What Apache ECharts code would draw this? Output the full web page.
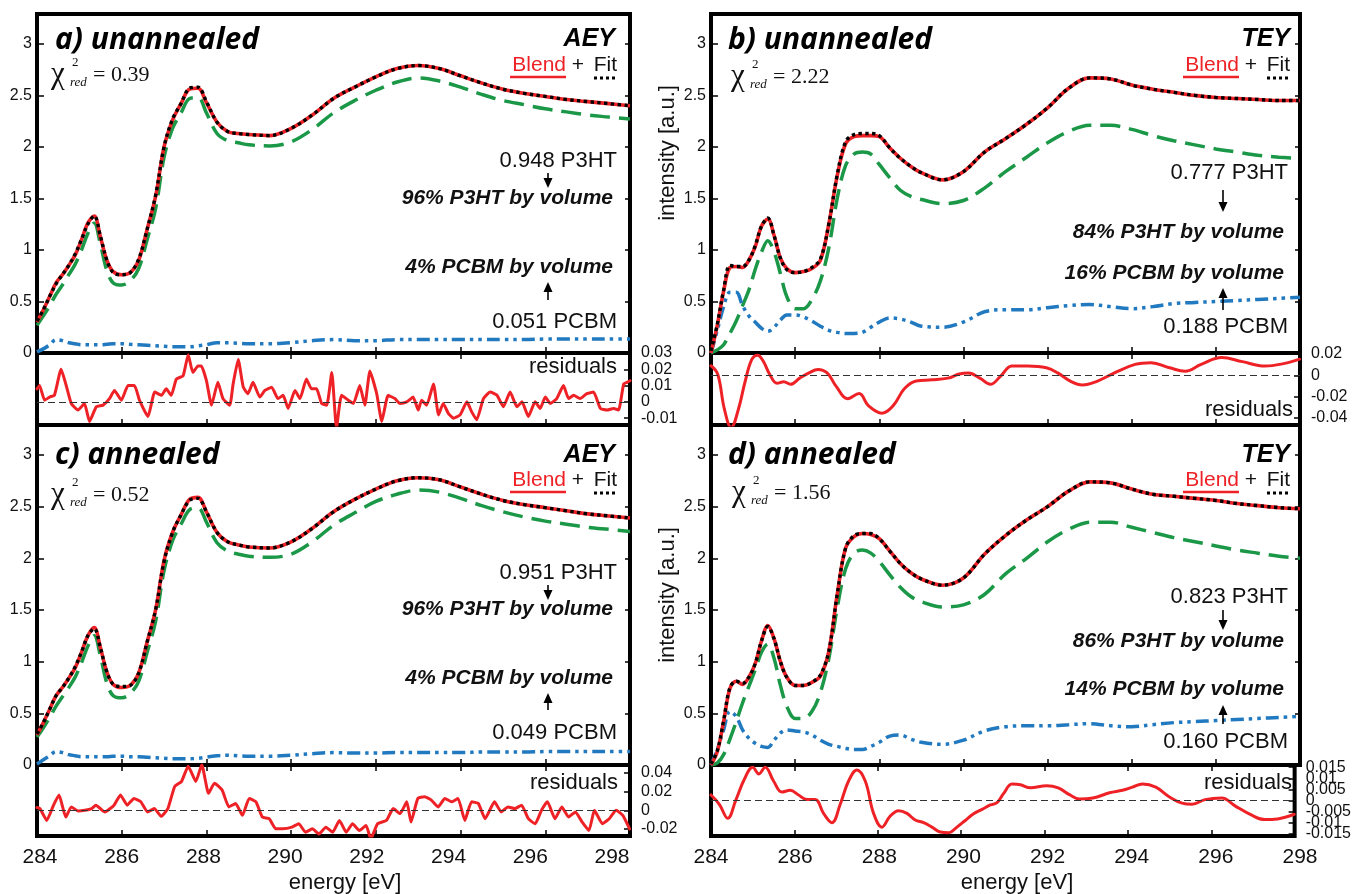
<!DOCTYPE html>
<html>
<head>
<meta charset="utf-8">
<title>NEXAFS blend fits</title>
<script src="https://cdn.jsdelivr.net/npm/echarts@6/dist/echarts.min.js"></script>
<style>
html,body{margin:0;padding:0;background:#fff;}
#chart{width:1354px;height:894px;}
</style>
</head>
<body>
<div id="chart"></div>
<script>
// photon energy grid used for the spectra [eV]
var energy = [284.0,284.15,284.3,284.45,284.6,284.75,284.9,285.05,285.2,285.35,285.5,285.65,285.8,286.0,286.2,286.4,286.6,286.8,287.0,287.2,287.4,287.6,287.8,288.0,288.25,288.5,288.75,289.0,289.5,290.0,290.5,291.0,291.5,292.0,292.5,293.0,293.5,294.0,294.5,295.0,295.5,296.0,296.5,297.0,297.5,298.0];

// a) unannealed, AEY
var aBlend = [0.30,0.42,0.55,0.68,0.76,0.85,0.95,1.10,1.26,1.33,1.12,0.90,0.79,0.76,0.78,0.90,1.20,1.52,2.00,2.26,2.42,2.56,2.57,2.43,2.24,2.15,2.13,2.12,2.11,2.18,2.31,2.47,2.58,2.68,2.76,2.79,2.76,2.69,2.62,2.56,2.52,2.49,2.46,2.44,2.42,2.40];
var aFit   = [0.31,0.42,0.55,0.67,0.76,0.85,0.96,1.10,1.25,1.33,1.13,0.90,0.78,0.76,0.78,0.91,1.20,1.53,2.00,2.27,2.42,2.57,2.58,2.44,2.24,2.15,2.13,2.12,2.11,2.18,2.31,2.47,2.58,2.68,2.76,2.79,2.76,2.69,2.62,2.56,2.52,2.49,2.46,2.44,2.42,2.40];
var aP3HT  = [0.27,0.36,0.46,0.57,0.66,0.76,0.86,1.00,1.16,1.26,1.05,0.80,0.68,0.66,0.70,0.82,1.10,1.40,1.90,2.18,2.33,2.47,2.48,2.33,2.13,2.06,2.04,2.02,2.01,2.05,2.17,2.33,2.45,2.55,2.63,2.67,2.64,2.58,2.51,2.45,2.41,2.37,2.34,2.31,2.29,2.27];
var aPCBM  = [0.01,0.04,0.08,0.13,0.12,0.10,0.09,0.08,0.08,0.08,0.08,0.085,0.09,0.09,0.085,0.08,0.075,0.07,0.065,0.06,0.06,0.06,0.07,0.08,0.10,0.10,0.095,0.09,0.09,0.10,0.12,0.13,0.12,0.12,0.13,0.13,0.13,0.13,0.13,0.13,0.13,0.135,0.135,0.135,0.135,0.135];

// b) unannealed, TEY
var bBlend = [0.00,0.27,0.60,0.83,0.84,0.83,0.90,1.03,1.23,1.30,1.14,0.92,0.82,0.78,0.79,0.82,0.90,1.25,1.72,2.03,2.10,2.11,2.11,2.10,1.99,1.89,1.81,1.75,1.68,1.76,1.95,2.08,2.22,2.38,2.57,2.67,2.66,2.60,2.56,2.53,2.50,2.48,2.47,2.46,2.45,2.45];
var bFit   = [0.02,0.28,0.61,0.85,0.84,0.84,0.90,1.04,1.23,1.31,1.14,0.92,0.81,0.78,0.79,0.83,0.91,1.25,1.73,2.05,2.12,2.13,2.13,2.11,1.99,1.89,1.81,1.75,1.68,1.76,1.95,2.08,2.22,2.38,2.57,2.67,2.66,2.60,2.56,2.53,2.50,2.48,2.47,2.46,2.45,2.45];
var bP3HT  = [0.00,0.03,0.08,0.19,0.31,0.46,0.61,0.81,0.98,1.09,0.98,0.77,0.55,0.43,0.43,0.52,0.70,1.02,1.50,1.82,1.93,1.95,1.93,1.83,1.70,1.58,1.52,1.49,1.45,1.48,1.60,1.76,1.90,2.04,2.15,2.21,2.21,2.17,2.11,2.06,2.02,1.98,1.95,1.92,1.90,1.89];
var bPCBM  = [0.00,0.22,0.45,0.59,0.59,0.46,0.36,0.30,0.24,0.21,0.25,0.32,0.37,0.37,0.35,0.31,0.26,0.22,0.20,0.19,0.19,0.20,0.25,0.30,0.34,0.33,0.30,0.26,0.25,0.30,0.40,0.42,0.42,0.44,0.46,0.47,0.45,0.43,0.45,0.48,0.49,0.50,0.51,0.52,0.53,0.54];

// c) annealed, AEY
var cBlend = [0.29,0.41,0.54,0.67,0.75,0.84,0.94,1.09,1.25,1.33,1.13,0.90,0.78,0.75,0.77,0.89,1.19,1.50,1.98,2.25,2.42,2.57,2.59,2.45,2.25,2.16,2.13,2.11,2.10,2.16,2.29,2.45,2.57,2.67,2.75,2.78,2.76,2.69,2.62,2.56,2.52,2.49,2.46,2.43,2.41,2.39];
var cFit   = [0.30,0.41,0.54,0.67,0.75,0.84,0.95,1.09,1.25,1.32,1.13,0.90,0.78,0.76,0.77,0.89,1.19,1.50,1.97,2.25,2.42,2.56,2.58,2.45,2.25,2.16,2.13,2.11,2.10,2.16,2.29,2.45,2.57,2.67,2.75,2.78,2.76,2.69,2.62,2.56,2.52,2.49,2.46,2.43,2.41,2.39];
var cP3HT  = [0.27,0.36,0.46,0.57,0.66,0.75,0.85,0.99,1.15,1.25,1.05,0.79,0.67,0.65,0.69,0.81,1.09,1.39,1.88,2.17,2.33,2.47,2.49,2.35,2.15,2.07,2.04,2.02,2.01,2.04,2.16,2.32,2.44,2.55,2.62,2.66,2.64,2.58,2.51,2.45,2.40,2.36,2.33,2.30,2.28,2.26];
var cPCBM  = [0.01,0.05,0.09,0.13,0.12,0.10,0.09,0.08,0.08,0.08,0.08,0.08,0.085,0.085,0.08,0.08,0.075,0.07,0.065,0.06,0.06,0.06,0.065,0.075,0.09,0.095,0.09,0.085,0.085,0.095,0.11,0.12,0.115,0.115,0.12,0.12,0.12,0.12,0.125,0.125,0.125,0.13,0.13,0.13,0.13,0.13];

// d) annealed, TEY
var dBlend = [0.00,0.13,0.42,0.74,0.81,0.78,0.85,0.98,1.20,1.35,1.22,1.00,0.85,0.77,0.77,0.80,0.86,1.10,1.65,2.10,2.21,2.24,2.23,2.19,2.07,1.95,1.86,1.80,1.74,1.81,2.04,2.22,2.37,2.50,2.65,2.74,2.73,2.67,2.62,2.60,2.58,2.56,2.53,2.51,2.49,2.48];
var dFit   = [0.01,0.14,0.43,0.75,0.81,0.79,0.85,0.98,1.20,1.34,1.22,1.00,0.85,0.77,0.77,0.80,0.87,1.10,1.65,2.10,2.22,2.24,2.24,2.19,2.07,1.95,1.86,1.80,1.74,1.81,2.04,2.22,2.37,2.50,2.65,2.74,2.73,2.67,2.62,2.60,2.58,2.56,2.53,2.51,2.49,2.48];
var dP3HT  = [0.00,0.02,0.10,0.25,0.42,0.60,0.76,0.92,1.09,1.17,1.03,0.77,0.57,0.45,0.45,0.52,0.70,1.03,1.52,1.90,2.05,2.08,2.05,1.97,1.84,1.72,1.63,1.58,1.53,1.55,1.65,1.85,2.00,2.16,2.28,2.35,2.35,2.30,2.25,2.20,2.16,2.12,2.08,2.05,2.02,2.00];
var dPCBM  = [0.00,0.15,0.34,0.52,0.47,0.34,0.26,0.21,0.18,0.17,0.24,0.31,0.34,0.33,0.32,0.29,0.24,0.20,0.18,0.16,0.15,0.15,0.18,0.22,0.28,0.29,0.25,0.22,0.20,0.24,0.33,0.37,0.38,0.38,0.39,0.40,0.38,0.37,0.39,0.41,0.42,0.43,0.44,0.45,0.46,0.47];

// residuals (energy, value)
var resAE = [284.0,284.06,284.18,284.30,284.41,284.57,284.69,284.81,284.97,285.12,285.24,285.40,285.56,285.71,285.83,285.99,286.15,286.30,286.42,286.62,286.78,286.94,287.05,287.17,287.29,287.45,287.57,287.68,287.80,287.88,288.00,288.12,288.27,288.39,288.55,288.63,288.75,288.87,288.98,289.10,289.26,289.38,289.54,289.69,289.81,289.93,290.09,290.21,290.36,290.48,290.60,290.72,290.84,290.96,291.07,291.19,291.35,291.47,291.62,291.74,291.86,292.02,292.14,292.29,292.45,292.57,292.73,292.88,293.00,293.08,293.20,293.36,293.48,293.59,293.71,293.83,293.99,294.15,294.26,294.38,294.54,294.70,294.86,295.01,295.17,295.33,295.45,295.60,295.76,295.88,296.00,296.12,296.27,296.43,296.55,296.67,296.82,296.98,297.14,297.30,297.46,297.61,297.73,297.85,297.93,298.0];
var resA  = [0.008,0.010,0.001,0.003,0.004,0.020,0.010,-0.001,-0.005,-0.001,-0.012,-0.003,-0.002,0.002,0.007,0.001,0.010,0.010,0.001,-0.009,0.006,0.004,0.008,0.004,0.014,0.016,0.029,0.018,0.022,0.022,0.013,-0.002,0.012,0.002,-0.002,0.011,0.026,0.009,0.005,0.012,0.003,0.007,0.009,0.002,0.004,-0.004,0.007,0.002,0.014,0.008,0.008,-0.001,-0.002,0.018,-0.016,0.004,0.001,-0.001,0.010,-0.002,0.019,0.005,-0.012,0.004,0.002,-0.001,0.000,0.003,-0.005,0.001,-0.002,0.011,-0.008,-0.001,-0.007,-0.010,-0.008,0.000,-0.006,-0.011,0.002,0.006,0.004,-0.003,0.006,-0.003,0.000,-0.009,0.000,-0.004,0.003,-0.001,0.002,0.010,0.002,0.004,0.002,0.005,0.006,-0.004,-0.005,-0.004,-0.005,0.011,0.012,0.013];

var resBE = [284.0,284.16,284.32,284.48,284.65,284.81,284.97,285.11,285.24,285.40,285.57,285.73,285.89,286.11,286.33,286.54,286.76,286.98,287.25,287.52,287.74,288.06,288.33,288.60,288.88,289.25,289.63,289.90,290.12,290.39,290.64,290.88,291.15,291.53,291.97,292.24,292.56,292.83,293.16,293.59,294.08,294.46,294.90,295.27,295.65,296.14,296.63,297.17,297.61,297.99];
var resB  = [0.009,0.001,-0.032,-0.049,-0.032,-0.006,0.015,0.019,0.0135,0.0006,-0.0074,-0.006,-0.0084,-0.0026,0.0023,0.0055,0.0023,-0.0106,-0.0219,-0.0171,-0.0284,-0.0355,-0.0284,-0.0123,-0.0052,-0.0042,-0.0026,0.0013,0.0023,-0.0026,-0.0084,-0.001,0.0087,0.0087,0.0071,0.0023,-0.0058,-0.009,-0.0058,0.0023,0.0103,0.0119,0.0071,0.0039,0.0103,0.0168,0.0129,0.0087,0.011,0.0152];

var resCE = [284.0,284.07,284.23,284.39,284.52,284.68,284.81,284.97,285.13,285.29,285.39,285.6,285.82,285.97,286.13,286.29,286.45,286.61,286.77,286.93,287.09,287.25,287.41,287.57,287.75,287.89,288.05,288.19,288.37,288.53,288.69,288.85,289.01,289.17,289.32,289.48,289.64,289.8,290.02,290.18,290.34,290.5,290.66,290.82,290.98,291.14,291.3,291.45,291.61,291.77,291.88,292.04,292.25,292.41,292.57,292.73,292.83,292.99,293.15,293.31,293.47,293.63,293.79,293.94,294.1,294.26,294.42,294.58,294.8,294.96,295.12,295.28,295.44,295.6,295.76,295.91,296.05,296.23,296.39,296.55,296.71,296.87,297.03,297.16,297.35,297.51,297.67,297.83,297.99];
var resC  = [0.003,0.0018,-0.0109,0.0055,0.0164,-0.0073,0.0036,-0.0007,0,0.0018,0.0055,-0.0018,0.0055,0.0164,0.0055,0.0127,0.0091,-0.0018,0.0018,-0.0065,0.0018,0.0255,0.0309,0.0473,0.0309,0.0491,0.0182,0.0291,0.0218,0.0036,0.0073,-0.0055,0.0127,0.0091,-0.0073,-0.0091,-0.02,-0.02,-0.0182,-0.0145,-0.0236,-0.02,-0.0255,-0.0182,-0.0236,-0.0109,-0.0236,-0.0145,-0.0218,-0.0164,-0.0309,-0.0145,-0.0109,0.0018,-0.0036,0.0091,-0.0127,0.0127,0.0145,0.0109,0.0036,0.0127,0.0091,0.0127,-0.0109,0.0091,0.0073,-0.0091,0.0091,-0.0018,0.0036,0.0018,0.0055,-0.0091,-0.0145,0,0.0091,-0.0091,0.0036,-0.0073,-0.0018,-0.0127,-0.0218,0,-0.0145,-0.0091,0,-0.0055,-0.02];

var resDE = [284.0,284.2,284.4,284.6,284.8,285.0,285.15,285.3,285.5,285.7,285.9,286.1,286.3,286.5,286.7,286.9,287.1,287.3,287.5,287.7,287.9,288.1,288.3,288.5,288.7,288.9,289.1,289.3,289.5,289.7,289.9,290.1,290.3,290.5,290.7,290.86,291.02,291.22,291.42,291.66,292.05,292.33,292.61,292.84,293.16,293.56,293.87,294.11,294.35,294.67,294.98,295.3,295.54,295.85,296.25,296.57,296.96,297.28,297.59,297.99];
var resD  = [0.0025,-0.0017,-0.008,0.0004,0.0096,0.015,0.012,0.015,0.0088,0.0038,0.0046,0.0025,0.0004,0.0004,-0.0058,-0.01,-0.0017,0.0088,0.0138,0.0088,-0.0058,-0.012,-0.007,-0.0046,-0.0058,-0.0088,-0.01,-0.012,-0.0142,-0.0145,-0.012,-0.009,-0.006,-0.004,-0.002,-0.001,0.0032,0.0074,0.0071,0.0057,0.0067,0.0057,0.0025,0.0007,0.0011,0.0035,0.0046,0.006,0.0074,0.006,0.0018,-0.0012,-0.0017,0.0004,0.0011,-0.0024,-0.0065,-0.0086,-0.0083,-0.0062];

// tick labels
var energyTicks = [284,286,288,290,292,294,296,298];
var intensityTicks = [0,0.5,1,1.5,2,2.5,3];
var resATicks = [-0.01,0,0.01,0.02,0.03];
var resBTicks = [-0.04,-0.02,0,0.02];
var resCTicks = [-0.02,0,0.02,0.04];
var resDTicks = [-0.015,-0.01,-0.005,0,0.005,0.01,0.015];

var RED = '#ee2226', GREEN = '#1b9847', BLUE = '#2179c0';
var SANS = 'Liberation Sans', SERIF = 'Liberation Serif';

var grids = [], xAxes = [], yAxes = [], series = [], graphics = [];
var tickLine = {color: '#000', width: 1.5};

function zip(xs, ys) {
    return xs.map(function (x, i) { return [x, ys[i]]; });
}
function addGrid(g) { grids.push(g); return grids.length - 1; }
function addX(o) { xAxes.push(o); return xAxes.length - 1; }
function addY(o) { yAxes.push(o); return yAxes.length - 1; }

function frame(left, top, width, height) {
    return addGrid({left: left, top: top, width: width, height: height, show: true,
        borderColor: '#000', borderWidth: 4, backgroundColor: 'transparent'});
}
function eAxis(gi, pos) {
    return addX({gridIndex: gi, type: 'value', min: 284, max: 298, interval: 2, position: pos,
        axisLine: {show: false, onZero: false}, axisLabel: {show: false}, splitLine: {show: false},
        axisTick: {show: true, inside: true, length: 6, lineStyle: tickLine}});
}
function line(xi, yi, data, color, width, dash, z) {
    series.push({type: 'line', xAxisIndex: xi, yAxisIndex: yi, data: data, showSymbol: false,
        smooth: 0.35, z: z, silent: true,
        lineStyle: {color: color, width: width, type: dash, cap: 'butt'}});
}

function mainPanel(left, width, top, height, blend, fit, p3ht, pcbm) {
    var gi = frame(left, top, width, height);
    var xi = eAxis(gi, 'bottom');
    var yi = addY({gridIndex: gi, type: 'value', min: 0, max: 3.29, position: 'left',
        axisLine: {show: false, onZero: false}, splitLine: {show: false},
        axisTick: {show: true, inside: true, length: 7, customValues: intensityTicks, lineStyle: tickLine},
        axisLabel: {show: true, customValues: intensityTicks, margin: 5, fontSize: 16,
            showMinLabel: true, showMaxLabel: true,
            fontFamily: SANS, color: '#111', formatter: function (v) { return String(v); }}});
    addY({gridIndex: gi, type: 'value', min: 0, max: 3.29, position: 'right',
        axisLine: {show: false, onZero: false}, splitLine: {show: false}, axisLabel: {show: false},
        axisTick: {show: true, inside: true, length: 5, customValues: intensityTicks, lineStyle: tickLine}});
    line(xi, yi, zip(energy, p3ht), GREEN, 3.5, [20, 9], 2);
    line(xi, yi, zip(energy, pcbm), BLUE, 3.5, [13, 5, 3.5, 5, 3.5, 5], 2);
    line(xi, yi, zip(energy, blend), RED, 3.6, 'solid', 3);
    line(xi, yi, zip(energy, fit), '#000', 3.4, [3.4, 3.4], 4);
}

// crowded tick labels are split over two overlaid right-hand axes so that none gets dropped
function residualPanel(left, width, top, height, xs, ys, min, max, ticks, smooth) {
    var gi = frame(left, top, width, height);
    eAxis(gi, 'top');
    var xi = eAxis(gi, 'bottom');
    var sets = ticks.length > 5
        ? [ticks.filter(function (v, i) { return i % 2 === 0; }), ticks.filter(function (v, i) { return i % 2 === 1; })]
        : [ticks];
    var yi = -1;
    sets.forEach(function (vals, k) {
        var idx = addY({gridIndex: gi, type: 'value', min: min, max: max, position: 'right', offset: 0,
            axisLine: {show: false, onZero: false}, splitLine: {show: false},
            axisTick: {show: k === 0, inside: true, length: 6, customValues: ticks, lineStyle: tickLine},
            axisLabel: {show: true, customValues: vals, margin: 11, fontSize: 16,
                showMinLabel: true, showMaxLabel: true,
                fontFamily: SANS, color: '#111', formatter: function (v) { return String(v); }}});
        if (k === 0) yi = idx;
    });
    series.push({type: 'line', xAxisIndex: xi, yAxisIndex: yi, data: zip(xs, ys), showSymbol: false,
        smooth: smooth, silent: true, z: 3,
        lineStyle: {color: RED, width: 3, cap: 'round', join: 'round'},
        markLine: {silent: true, symbol: ['none', 'none'], label: {show: false}, animation: false,
            lineStyle: {color: '#333', width: 1.2, type: [7, 4]}, data: [{yAxis: 0}]}});
}

function labelRow(left, width) {
    var gi = addGrid({left: left, top: 836, width: width, height: 1, show: false});
    addX({gridIndex: gi, type: 'value', min: 284, max: 298, interval: 2, position: 'bottom',
        axisLine: {show: false, onZero: false}, axisTick: {show: false}, splitLine: {show: false},
        axisLabel: {show: true, margin: 10, fontSize: 21, fontFamily: SANS, color: '#111',
            showMinLabel: true, showMaxLabel: true}});
    addY({gridIndex: gi, type: 'value', show: false, min: 0, max: 1});
}

// panels
mainPanel(37, 593, 14, 339, aBlend, aFit, aP3HT, aPCBM);
residualPanel(37, 593, 353, 72, resAE, resA, -0.0142, 0.03, resATicks, 0.15);
mainPanel(37, 593, 425, 340, cBlend, cFit, cP3HT, cPCBM);
residualPanel(37, 593, 765, 71, resCE, resC, -0.0277, 0.0487, resCTicks, 0.15);
mainPanel(711, 589, 14, 339, bBlend, bFit, bP3HT, bPCBM);
residualPanel(711, 589, 353, 72, resBE, resB, -0.0466, 0.021, resBTicks, 0.4);
mainPanel(711, 589, 425, 340, dBlend, dFit, dP3HT, dPCBM);
residualPanel(711, 589, 765, 71, resDE, resD, -0.016, 0.016, resDTicks, 0.4);
labelRow(40, 572);
labelRow(711, 589);

// text helpers
function T(x, y, text, size, extra) {
    var st = {text: text, fill: '#111', fontSize: size, fontFamily: SANS,
        align: 'left', textAlign: 'left', verticalAlign: 'middle', textVerticalAlign: 'middle'};
    for (var k in extra) st[k] = extra[k];
    if (extra && extra.align) st.textAlign = extra.align;
    return {type: 'text', x: x, y: y, z: 100, silent: true, style: st};
}
function arrow(x, y0, tip) {
    var d = tip > y0 ? 1 : -1;
    graphics.push({type: 'line', z: 100, silent: true, shape: {x1: x, y1: y0, x2: x, y2: tip - d * 8},
        style: {stroke: '#000', lineWidth: 1.6}});
    graphics.push({type: 'polygon', z: 100, silent: true,
        shape: {points: [[x - 4.5, tip - d * 10], [x + 4.5, tip - d * 10], [x, tip]]}, style: {fill: '#000'}});
}
function title(x, y, text) {
    graphics.push(T(x, y, text, 30, {fontFamily: 'Open Sans', fontWeight: 'bold', fontStyle: 'italic', fill: '#000'}));
}
function mode(xr, y, text) {
    graphics.push(T(xr, y, text, 25, {fontWeight: 'bold', fontStyle: 'italic', align: 'right', fill: '#000'}));
}
function chi(x, y, val) {
    graphics.push(T(x - 1, y, '\u03c7', 31, {fontFamily: SERIF}));
    graphics.push(T(x + 20, y - 12, '2', 13, {fontFamily: SERIF}));
    graphics.push(T(x + 18, y + 8, 'red', 13, {fontFamily: SERIF, fontStyle: 'italic'}));
    graphics.push(T(x + 41, y, '= ' + val, 22, {fontFamily: SERIF}));
}
function legend(xr, y) {
    graphics.push(T(xr - 51, y, 'Blend', 21, {align: 'right', fill: RED}));
    graphics.push(T(xr - 39, y, '+', 21, {align: 'center'}));
    graphics.push(T(xr, y, 'Fit', 21, {align: 'right'}));
    graphics.push({type: 'line', z: 100, silent: true, shape: {x1: xr - 107, y1: y + 12, x2: xr - 51, y2: y + 12},
        style: {stroke: RED, lineWidth: 2.5}});
    graphics.push({type: 'line', z: 100, silent: true, shape: {x1: xr - 23, y1: y + 13, x2: xr, y2: y + 13},
        style: {stroke: '#000', lineWidth: 3, lineDash: [3, 3]}});
}
function fractions(xr, xa, ys, p3, p3v, pc, pcv) {
    graphics.push(T(xr, ys[0], p3 + ' P3HT', 22, {align: 'right'}));
    arrow(xa, ys[1], ys[2]);
    graphics.push(T(xr - 4, ys[3], p3v + '% P3HT by volume', 21, {align: 'right', fontWeight: 'bold', fontStyle: 'italic'}));
    graphics.push(T(xr - 4, ys[4], pcv + '% PCBM by volume', 21, {align: 'right', fontWeight: 'bold', fontStyle: 'italic'}));
    arrow(xa, ys[5], ys[6]);
    graphics.push(T(xr, ys[7], pc + ' PCBM', 22, {align: 'right'}));
}

title(55, 40, 'a) unannealed');
title(728, 40, 'b) unannealed');
title(55, 455, 'c) annealed');
title(728, 455, 'd) annealed');
mode(615, 39, 'AEY');
mode(1290, 39, 'TEY');
mode(615, 455, 'AEY');
mode(1290, 455, 'TEY');
legend(617, 65);
legend(1290, 65);
legend(617, 480);
legend(1290, 480);
chi(52, 75, '0.39');
chi(732, 77, '2.22');
chi(52, 495, '0.52');
chi(733, 493, '1.56');
fractions(617, 548, [161, 173, 188, 198, 267, 300, 282, 322], '0.948', 96, '0.051', 4);
fractions(1288, 1223, [173, 190, 212, 232, 273, 310, 288, 327], '0.777', 84, '0.188', 16);
fractions(617, 548, [573, 585, 600, 609, 678, 710, 693, 733], '0.951', 96, '0.049', 4);
fractions(1288, 1223, [597, 610, 630, 641, 689, 724, 705, 742], '0.823', 86, '0.160', 14);

graphics.push(T(617, 367, 'residuals', 22, {align: 'right'}));
graphics.push(T(1293, 410, 'residuals', 22, {align: 'right'}));
graphics.push(T(618, 783, 'residuals', 22, {align: 'right'}));
graphics.push(T(1292, 783, 'residuals', 22, {align: 'right'}));
graphics.push(T(345, 883, 'energy [eV]', 22, {align: 'center'}));
graphics.push(T(1017, 883, 'energy [eV]', 22, {align: 'center'}));

var yName = function (y) {
    var t = T(668, y, 'intensity [a.u.]', 22, {align: 'center'});
    t.rotation = Math.PI / 2;
    return t;
};
graphics.push(yName(153));
graphics.push(yName(595));

var myChart = echarts.init(document.getElementById('chart'), null, {renderer: 'canvas'});
myChart.setOption({
    animation: false,
    backgroundColor: '#fff',
    grid: grids,
    xAxis: xAxes,
    yAxis: yAxes,
    series: series,
    graphic: {elements: graphics}
});
</script>
</body>
</html>
